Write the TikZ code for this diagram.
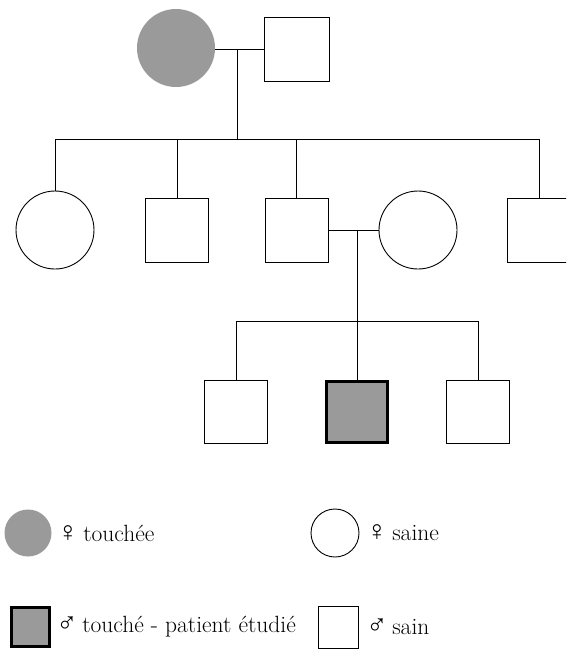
\documentclass[tikz,border=0pt]{standalone}
\usepackage{fontspec}
\newfontfamily\symf{Liberation Serif}[Scale=1.2]
\newcommand{\fem}{{\symf ♀}\hspace{0.2em}}
\newcommand{\mal}{{\symf ♂}\hspace{0.2em}}
\definecolor{aff}{RGB}{154,154,154}
\begin{document}
\begin{tikzpicture}[x=1pt,y=-1pt,
  line width=0.9pt,
  male/.style={draw,rectangle,minimum width=63pt,minimum height=64pt,inner sep=0pt,fill=white},
  female/.style={draw,circle,minimum size=78pt,inner sep=0pt,fill=white},
  affcirc/.style={circle,fill=aff,inner sep=0pt},
  lbl/.style={anchor=west,inner sep=0pt,font=\fontsize{23.5}{27}\selectfont}]
\useasboundingbox (0,0) rectangle (566,649);
\clip (0,0) rectangle (566,649);
% generation I
\node[affcirc,minimum size=78pt] (gm) at (176,48) {};
\node[male,minimum width=65pt] (gf) at (296.5,49) {};
% generation II
\node[female] (c1) at (55,230) {};
\node[male] (c2) at (177,230) {};
\node[male] (c3) at (296.5,230) {};
\node[female] (c4) at (418,230) {};
\node[male] (c5) at (539,230) {};
% generation III
\node[male,minimum height=63pt] (g1) at (236,411.5) {};
\node[male,fill=aff,line width=3pt,minimum width=61pt,minimum height=61pt] (g2) at (357,411.5) {};
\node[male,minimum height=63pt] (g3) at (478,411.5) {};
% connectors
\coordinate (m1) at (237,49);
\coordinate (s1) at (237,139);
\draw (gm.east |- m1) -- (gf.west |- m1);
\draw (m1) -- (s1);
\draw (c1.north) -- (c1.north |- s1) -- (c5.north |- s1) -- (c5.north);
\draw (c2.north) -- (c2.north |- s1);
\draw (c3.north) -- (c3.north |- s1);
\coordinate (m2) at (357,230);
\coordinate (s2) at (357,321);
\draw (c3.east) -- (c4.west);
\draw (m2) -- (g2.north);
\draw (g1.north) -- (g1.north |- s2) -- (g3.north |- s2) -- (g3.north);
% legend
\node[affcirc,minimum size=47pt] (l1) at (28,533) {};
\node[lbl] (t1) at (57,533) {\fem touchée};
\node[draw,circle,minimum size=48pt,inner sep=0pt] (l2) at (335,533) {};
\node[lbl] (t2) at (366,533) {\fem saine};
\node[draw,rectangle,fill=aff,line width=3pt,minimum width=38pt,minimum height=39pt,inner sep=0pt] (l3) at (30,627) {};
\node[lbl] (t3) at (56,627) {\mal touché - patient étudié};
\node[draw,rectangle,minimum width=40pt,minimum height=42pt,inner sep=0pt] (l4) at (338,627) {};
\node[lbl] (t4) at (366,627) {\mal sain};
\end{tikzpicture}
\end{document}
